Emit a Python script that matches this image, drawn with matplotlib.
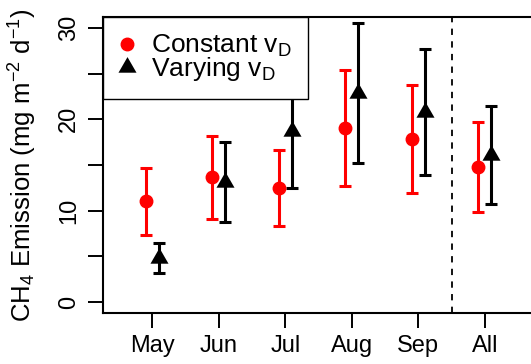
import matplotlib
matplotlib.use('Agg')
import matplotlib.pyplot as plt
import numpy as np

plt.rcParams['font.family'] = ['Liberation Sans', 'DejaVu Sans']
plt.rcParams['mathtext.default'] = 'regular'

# data: mean and half-width of error bars
months = ['May', 'Jun', 'Jul', 'Aug', 'Sep', 'All']
const_mean = [11.03, 13.64, 12.47, 19.09, 17.82, 14.80]
const_err = [3.69, 4.55, 4.18, 6.35, 5.92, 4.91]
vary_mean = [4.80, 13.18, 18.72, 22.89, 20.79, 16.08]
vary_err = [1.62, 4.38, 6.22, 7.63, 6.92, 5.35]

x = np.arange(1, len(months) + 1)
red = '#FF0000'
# R-style triangle (pch 17), centroid at the data point
tri = [(0, 1), (-0.866, -0.5), (0.866, -0.5), (0, 1)]

fig = plt.figure(figsize=(5.31, 3.64), dpi=100)
ax = fig.add_axes([0.194, 0.1401, 0.8117, 0.8132])

ax.errorbar(x - 0.1, const_mean, yerr=const_err, fmt='none', ecolor=red,
            elinewidth=2.2, capsize=4.4, capthick=2.2, zorder=2)
ax.errorbar(x + 0.1, vary_mean, yerr=vary_err, fmt='none', ecolor='black',
            elinewidth=2.2, capsize=4.4, capthick=2.2, zorder=2)
ax.plot(x - 0.1, const_mean, 'o', color=red, ms=9, mec=red,
        label=r'Constant v$_{D}$', zorder=3)
ax.plot(x + 0.1, vary_mean, linestyle='none', marker=tri, color='black',
        ms=15, mec='black', mew=0, label=r'Varying v$_{D}$', zorder=3)

ax.axvline(5.5, color='black', linestyle=(0, (3.5, 3.5)), linewidth=1.3)

ax.set_xlim(0.26, 6.74)
ax.set_ylim(-1.2, 31.2)
ax.set_xticks(x)
ax.set_xticklabels(months, fontsize=17)
yt = np.arange(0, 31, 5)
ax.set_yticks(yt)
ax.set_yticklabels([str(v) if v % 10 == 0 else '' for v in yt],
                   fontsize=17, rotation=90, va='center')
ax.tick_params(axis='both', length=10.5, width=1.4, direction='out')
ax.tick_params(axis='x', pad=5.5)
ax.tick_params(axis='y', pad=6)

ax.set_ylabel(r'CH$_4$ Emission (mg m$^{-2}$ d$^{-1}$)', fontsize=18.5)
ax.yaxis.set_label_coords(-0.148, 0.5)

for s in ['left', 'top', 'bottom']:
    ax.spines[s].set_linewidth(1.5)
ax.spines['right'].set_visible(False)

leg = ax.legend(loc='upper left', fontsize=19, frameon=True, fancybox=False,
                framealpha=1, edgecolor='black', borderaxespad=0,
                borderpad=0.6, handlelength=0.62, handletextpad=0.6,
                labelspacing=-0.15)
leg.get_frame().set_linewidth(1.0)

fig.savefig('out.png', dpi=100)
